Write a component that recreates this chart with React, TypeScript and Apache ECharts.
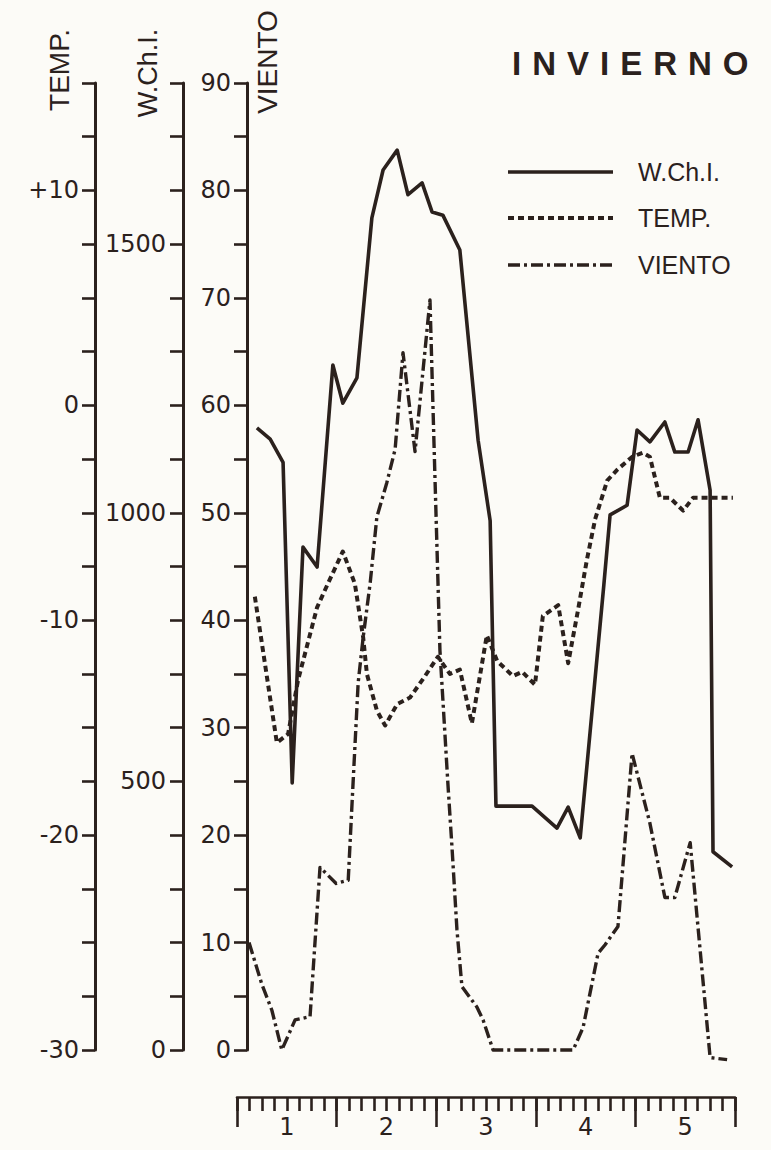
import React, { useEffect, useRef } from 'react';
import * as echarts from 'echarts';

// ---------- data (x = hours from start of day 1) ----------
const wciHours = [4.8, 8.0, 11.1, 13.3, 15.9, 19.3, 23.1, 25.5, 28.9, 32.5, 35.2, 38.6, 41.2, 44.6, 47.0, 49.6, 53.7, 58.1, 61.0, 62.4, 71.1, 77.1, 79.8, 82.7, 88.4, 89.9, 94.0, 96.4, 99.5, 103.1, 105.5, 108.7, 111.1, 114.0, 114.7, 119.3];
const wciValues = [1158, 1137, 1094, 497, 936, 899, 1275, 1204, 1251, 1549, 1638, 1675, 1592, 1614, 1560, 1554, 1489, 1135, 985, 454, 454, 413, 452, 395, 866, 996, 1014, 1154, 1132, 1169, 1113, 1113, 1173, 1042, 369, 341];

const tempHours = [4.3, 9.6, 12.3, 14.7, 19.3, 21.9, 25.5, 28.4, 30.4, 31.3, 33.7, 35.7, 38.6, 41.7, 45.3, 48.4, 51.3, 53.7, 56.6, 60.2, 62.7, 66.5, 68.7, 71.8, 73.7, 77.4, 79.8, 82.2, 84.3, 86.3, 89.2, 91.6, 95.2, 97.8, 99.5, 101.9, 104.3, 107.5, 109.9, 119.5];
const tempValues = [-8.9, -15.7, -15.3, -12.8, -9.4, -8.3, -6.8, -8.3, -10.8, -12.5, -14.2, -14.9, -13.9, -13.6, -12.6, -11.7, -12.5, -12.3, -14.8, -10.7, -11.9, -12.6, -12.4, -13.0, -9.8, -9.3, -12.0, -9.5, -7.2, -5.3, -3.5, -3.0, -2.4, -2.2, -2.4, -4.3, -4.3, -4.9, -4.3, -4.3];

const windHours = [2.9, 6.0, 8.4, 10.8, 14.0, 17.6, 20.0, 23.9, 26.8, 28.0, 29.2, 30.4, 32.1, 33.7, 36.1, 38.1, 40.0, 42.9, 46.5, 47.7, 48.9, 50.8, 51.8, 53.0, 54.2, 57.8, 59.3, 61.7, 81.0, 83.4, 87.0, 88.7, 91.8, 95.2, 99.5, 103.1, 105.5, 109.2, 114.0, 118.1];
const windValues = [10.0, 6.1, 3.7, 0, 2.8, 3.1, 17.0, 15.5, 15.8, 25.1, 34.2, 38.4, 43.5, 49.6, 52.8, 55.9, 64.9, 55.7, 69.8, 53.3, 37.2, 24.9, 18.9, 11.2, 5.9, 4.0, 2.8, 0, 0, 2.1, 9.0, 9.8, 11.5, 27.6, 21.1, 14.2, 14.2, 19.3, -0.7, -0.9];

const dayLabels = ['1', '2', '3', '4', '5'];
const tempTickLabels = [-30, -20, -10, 0, 10];
const wciTickLabels = [0, 500, 1000, 1500];
const windTickLabels = [0, 10, 20, 30, 40, 50, 60, 70, 80, 90];

const INK = '#2b211d';
const FONT = "'DejaVu Sans', sans-serif";
const FONT2 = "'Liberation Sans', sans-serif";

const pairs = (xs: number[], ys: number[]) => xs.map((x, i) => [x, ys[i]]);
const near = (v: number, list: number[]) => list.some((t) => Math.abs(t - v) < 1e-6);

export default function App() {
  const ref = useRef<HTMLDivElement>(null);
  useEffect(() => {
    if (!ref.current) return;
    const chart = echarts.init(ref.current, undefined, { renderer: 'svg' });
    const tickStyle = { color: INK, width: 2.6 };
    const labelBase = { color: INK, fontSize: 24, fontFamily: FONT };
    const yCommon = (extra: any) => ({
      type: 'value',
      gridIndex: 0,
      position: 'left',
      splitLine: { show: false },
      axisLine: { show: true, onZero: false, lineStyle: { color: INK, width: 3 } },
      axisTick: { show: true, length: 13, lineStyle: tickStyle },
      ...extra,
    });
    const option: any = {
      animation: false,
      backgroundColor: '#fcfbf7',
      grid: [
        { left: 237, right: 36, top: 83, bottom: 100 },
        { left: 237, right: 36, top: 1087, bottom: 53 },
      ],
      xAxis: [
        { gridIndex: 0, type: 'value', min: 0, max: 120, show: false },
        {
          gridIndex: 1, type: 'value', min: 0, max: 120, interval: 3, position: 'bottom',
          axisLine: { show: true, onZero: false, lineStyle: { color: INK, width: 2.6 } },
          axisTick: { show: true, length: 14, lineStyle: tickStyle },
          axisLabel: { show: false }, splitLine: { show: false },
        },
        {
          gridIndex: 1, type: 'value', min: 0, max: 120, interval: 24, position: 'bottom',
          axisLine: { show: false, onZero: false },
          axisTick: { show: true, length: 30, lineStyle: tickStyle },
          axisLabel: { show: false }, splitLine: { show: false },
        },
        {
          gridIndex: 1, type: 'value', min: 0, max: 120, interval: 12, position: 'bottom',
          axisLine: { show: false, onZero: false },
          axisTick: { show: false },
          axisLabel: {
            ...labelBase, margin: 18,
            formatter: (v: number) => (Math.abs(v % 24 - 12) < 1e-6 ? dayLabels[Math.round((v - 12) / 24)] : ''),
          },
          splitLine: { show: false },
        },
      ],
      yAxis: [
        yCommon({
          min: 0, max: 90, interval: 5, offset: -10,
          axisLabel: { ...labelBase, margin: 16, formatter: (v: number) => (near(v, windTickLabels) ? String(v) : '') },
        }),
        yCommon({
          min: 0, max: 1800, interval: 100, offset: 54,
          axisLabel: { ...labelBase, margin: 17, formatter: (v: number) => (near(v, wciTickLabels) ? String(v) : '') },
        }),
        yCommon({
          min: -30, max: 15, interval: 2.5, offset: 142,
          axisLabel: {
            ...labelBase, margin: 16,
            formatter: (v: number) => (near(v, tempTickLabels) ? (v > 0 ? '+' + v : String(v)) : ''),
          },
        }),
        { gridIndex: 1, type: 'value', show: false },
      ],
      series: [
        {
          name: 'W.Ch.I.', type: 'line', xAxisIndex: 0, yAxisIndex: 1, symbol: 'none', clip: false,
          data: pairs(wciHours, wciValues),
          lineStyle: { color: INK, width: 3.6, type: 'solid', join: 'round' },
        },
        {
          name: 'TEMP.', type: 'line', xAxisIndex: 0, yAxisIndex: 2, symbol: 'none', clip: false,
          data: pairs(tempHours, tempValues),
          lineStyle: { color: INK, width: 4, type: [6, 4], join: 'round' },
        },
        {
          name: 'VIENTO', type: 'line', xAxisIndex: 0, yAxisIndex: 0, symbol: 'none', clip: false,
          data: pairs(windHours, windValues),
          lineStyle: { color: INK, width: 3.4, type: [12, 4, 3, 4], join: 'round' },
        },
      ],
      graphic: [
        { type: 'text', x: 59, y: 70, rotation: Math.PI / 2, style: { text: 'TEMP.', fill: INK, fontSize: 28, fontFamily: FONT2, align: 'center', verticalAlign: 'middle' } },
        { type: 'text', x: 148, y: 73, rotation: Math.PI / 2, style: { text: 'W.Ch.I.', fill: INK, fontSize: 27, fontFamily: FONT2, align: 'center', verticalAlign: 'middle' } },
        { type: 'text', x: 267, y: 62, rotation: Math.PI / 2, style: { text: 'VIENTO', fill: INK, fontSize: 28, fontFamily: FONT2, align: 'center', verticalAlign: 'middle' } },
        { type: 'text', x: 512, y: 63, style: { text: 'INVIERNO', fill: INK, fontSize: 33, fontWeight: 'bold', fontFamily: FONT2, align: 'left', verticalAlign: 'middle' } },
        { type: 'line', shape: { x1: 508, y1: 172, x2: 613, y2: 172 }, style: { stroke: INK, lineWidth: 3.6 } },
        { type: 'line', shape: { x1: 508, y1: 218, x2: 613, y2: 218 }, style: { stroke: INK, lineWidth: 4, lineDash: [6, 4] } },
        { type: 'line', shape: { x1: 508, y1: 265, x2: 613, y2: 265 }, style: { stroke: INK, lineWidth: 3.4, lineDash: [12, 4, 3, 4] } },
        { type: 'text', x: 638, y: 172, style: { text: 'W.Ch.I.', fill: INK, fontSize: 25, fontFamily: FONT2, align: 'left', verticalAlign: 'middle' } },
        { type: 'text', x: 638, y: 218, style: { text: 'TEMP.', fill: INK, fontSize: 25, fontFamily: FONT2, align: 'left', verticalAlign: 'middle' } },
        { type: 'text', x: 638, y: 265, style: { text: 'VIENTO', fill: INK, fontSize: 25, fontFamily: FONT2, align: 'left', verticalAlign: 'middle' } },
      ],
    };
    chart.setOption(option);
    const spaceTitle = () => {
      ref.current?.querySelectorAll('text').forEach((t) => {
        if (t.textContent === 'INVIERNO') t.setAttribute('letter-spacing', '11');
      });
    };
    spaceTitle();
    chart.on('finished', spaceTitle);
    const timer = setTimeout(spaceTitle, 50);
    return () => {
      clearTimeout(timer);
      chart.dispose();
    };
  }, []);
  return (
    <div
      ref={ref}
      style={{ position: 'absolute', left: 0, top: 0, width: 771, height: 1150, background: '#fcfbf7' }}
    />
  );
}
